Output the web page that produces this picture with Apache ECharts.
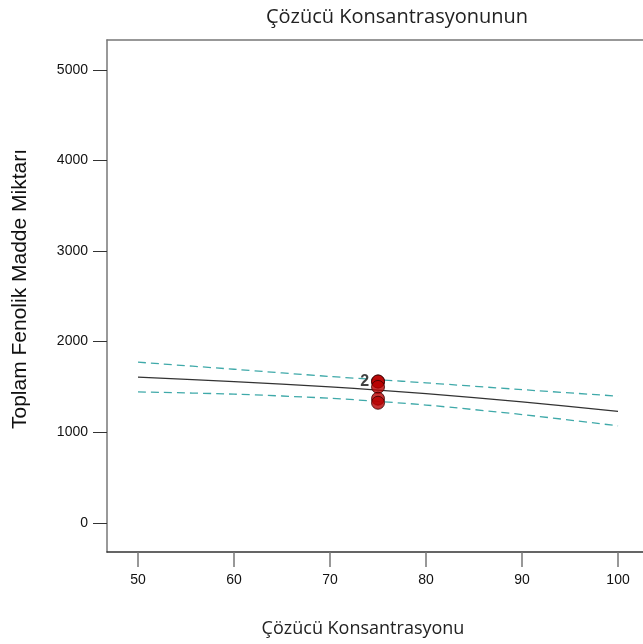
<!DOCTYPE html>
<html>
<head>
<meta charset="utf-8">
<script src="https://cdn.jsdelivr.net/npm/echarts@6/dist/echarts.min.js"></script>
<style>html,body{margin:0;padding:0;background:#fff;}#c{width:643px;height:644px;}</style>
</head>
<body>
<div id="c"></div>
<script>
const xValues = [50, 60, 70, 75, 80, 90, 100];
const fitValues = [1608, 1558, 1500, 1465, 1425, 1335, 1229];
const upperValues = [1773, 1695, 1615, 1580, 1545, 1470, 1398];
const lowerValues = [1445, 1420, 1375, 1340, 1300, 1195, 1070];
const pointX = [75, 75, 75, 75, 75];
const pointY = [1560, 1560, 1500, 1370, 1325];
const xTicks = [50, 60, 70, 80, 90, 100];
const yTicks = [0, 1000, 2000, 3000, 4000, 5000];

const pair = (xs, ys) => xs.map((x, i) => [x, ys[i]]);
const XMIN = 46.77, XMAX = 102.6;
const chart = echarts.init(document.getElementById('c'));
chart.setOption({
  animation: false,
  backgroundColor: '#fff',
  title: {
    text: 'Çözücü Konsantrasyonunun',
    left: 392, top: 2, textAlign: 'center',
    textStyle: { fontFamily: 'Open Sans', fontWeight: 'normal', fontSize: 20, color: '#222' }
  },
  grid: { left: 107, top: 40, right: 0, bottom: 92, show: false, containLabel: false, outerBoundsMode: 'none' },
  xAxis: [{
    type: 'value', min: XMIN, max: XMAX,
    name: 'Çözücü Konsantrasyonu', nameLocation: 'middle', nameGap: 68,
    nameTextStyle: { fontFamily: 'Open Sans', fontSize: 18, color: '#222', padding: [0, 24, 0, 0] },
    axisLine: { show: true, onZero: false, lineStyle: { color: '#333', width: 1.5 } },
    axisTick: { show: true, inside: false, length: 15, customValues: xTicks, lineStyle: { color: '#777', width: 1.5 } },
    axisLabel: { customValues: xTicks, margin: 21, fontFamily: 'Liberation Sans', fontSize: 14, color: '#111', formatter: v => String(v) },
    splitLine: { show: false }
  }, {
    type: 'value', min: XMIN, max: XMAX, position: 'top',
    axisLine: { show: true, onZero: false, lineStyle: { color: '#777', width: 1.5 } },
    axisTick: { show: false }, axisLabel: { show: false }, splitLine: { show: false }
  }],
  yAxis: {
    type: 'value', min: -323, max: 5331,
    name: 'Toplam Fenolik Madde Miktarı', nameLocation: 'middle', nameGap: 76, nameRotate: 90,
    nameTextStyle: { fontFamily: 'Liberation Sans', fontSize: 21, color: '#111', padding: [0, 0, 0, 14] },
    axisLine: { show: true, onZero: false, lineStyle: { color: '#777', width: 1.5 } },
    axisTick: { show: true, inside: false, length: 14, customValues: yTicks, lineStyle: { color: '#333', width: 1 } },
    axisLabel: { customValues: yTicks, margin: 19, fontFamily: 'Liberation Sans', fontSize: 14, color: '#111', formatter: v => String(v) },
    splitLine: { show: false }
  },
  series: [
    { type: 'line', data: pair(xValues, upperValues), smooth: 0.3, symbol: 'none',
      lineStyle: { color: '#3fa9a9', width: 1.3, type: [8, 5] }, z: 2 },
    { type: 'line', data: pair(xValues, lowerValues), smooth: 0.3, symbol: 'none',
      lineStyle: { color: '#3fa9a9', width: 1.3, type: [8, 5] }, z: 2 },
    { type: 'line', data: pair(xValues, fitValues), smooth: 0.3, symbol: 'none',
      lineStyle: { color: '#333', width: 1.2 }, z: 3 },
    { type: 'scatter', symbol: 'circle', symbolSize: 13,
      data: pair(pointX, pointY).map((p, i) => i === 0 ? { value: p, label: { show: true, position: 'left', distance: 2, formatter: '2', fontFamily: 'Liberation Sans', fontSize: 16, fontWeight: 'bold', color: '#111' } } : p),
      itemStyle: { color: '#b80000', borderColor: '#3a0000', borderWidth: 1 }, z: 4 }
  ]
});
</script>
</body>
</html>
